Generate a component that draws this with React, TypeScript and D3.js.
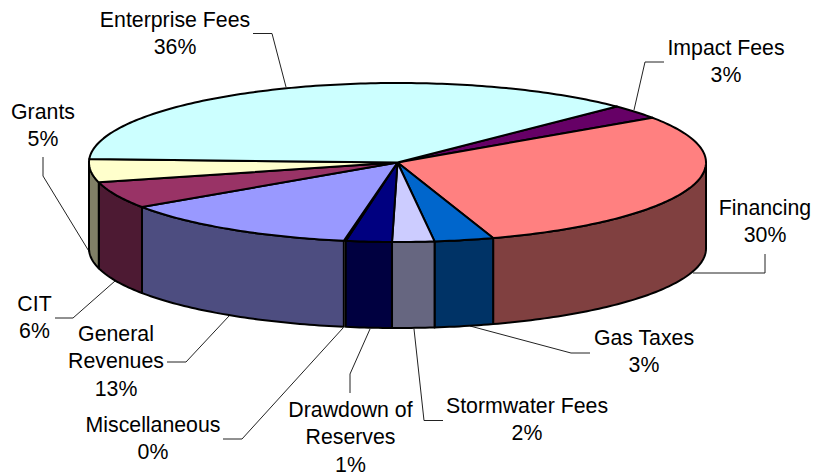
import React, { useEffect, useRef } from 'react';
import * as d3 from 'd3';

const categories = ['Impact Fees', 'Financing', 'Gas Taxes', 'Stormwater Fees', 'Drawdown of Reserves', 'Miscellaneous', 'General Revenues', 'CIT', 'Grants', 'Enterprise Fees'];
const shares = [2.9, 29.5, 3.1, 2.2, 2.4, 0.1, 12.75, 5.45, 4.7, 36.9];
const percentLabels = ['3%', '30%', '3%', '2%', '1%', '0%', '13%', '6%', '5%', '36%'];
const colors = ['#660066', '#FF8080', '#0066CC', '#CCCCFF', '#000080', '#FFFFFF', '#9999FF', '#993366', '#FFFFCC', '#CCFFFF'];

// label layout: text lines, centre x, first baseline, leader polyline
const labelLines = [['Impact Fees'], ['Financing'], ['Gas Taxes'], ['Stormwater Fees'], ['Drawdown of', 'Reserves'], ['Miscellaneous'], ['General', 'Revenues'], ['CIT'], ['Grants'], ['Enterprise Fees']];
const labelX = [726, 765, 644, 527, 350.5, 153, 116, 34.5, 43, 175];
const labelY = [55, 215, 345, 413, 417, 432, 341, 311, 119, 27];
const leaders: [number, number][][] = [
  [[634, 110], [645, 62], [664, 62]],
  [[693, 273], [765, 273], [765, 254]],
  [[470, 326], [571, 353], [590, 353]],
  [[414, 329], [424, 420.5], [443, 420.5]],
  [[370, 329], [350, 374], [350, 393]],
  [[343, 328], [242, 439], [223, 439]],
  [[229, 316], [186, 362], [167, 362]],
  [[115, 281], [73, 318], [55, 318]],
  [[90, 253], [43, 176], [43, 157]],
  [[286, 87], [272, 33.5], [253, 33.5]],
];

const width = 814;
const height = 476;
const cx = 397.5;
const cy = 162.5;
const rx = 308.5;
const ry = 79.5;
const depth = 86;
const startAngle = (45.3 * Math.PI) / 180;

const App = () => {
  const ref = useRef<SVGSVGElement>(null);

  useEffect(() => {
    const svg = d3.select(ref.current);
    svg.selectAll('*').remove();

    const rim = (a: number, dy = 0): [number, number] => [cx + rx * Math.sin(a), cy - ry * Math.cos(a) + dy];
    const sample = (a0: number, a1: number) => {
      const n = Math.max(2, Math.ceil((a1 - a0) * 60));
      return d3.range(n + 1).map(i => a0 + ((a1 - a0) * i) / n);
    };
    const line = d3.line();

    const pie = d3.pie<number>()
      .sort(null)
      .startAngle(startAngle)
      .endAngle(startAngle + 2 * Math.PI);
    const slices = pie(shares);

    // leaders sit behind the pie
    svg.append('g')
      .selectAll('path')
      .data(leaders)
      .enter().append('path')
      .attr('d', d => line(d))
      .attr('fill', 'none')
      .attr('stroke', '#222')
      .attr('stroke-width', 1);

    // side walls, only the front half of the rim shows
    const front0 = Math.PI / 2;
    const front1 = (3 * Math.PI) / 2;
    svg.append('g')
      .selectAll('path')
      .data(slices.filter(d => d.startAngle < front1 && d.endAngle > front0 && d.index !== 5))
      .enter().append('path')
      .attr('d', d => {
        const angles = sample(Math.max(d.startAngle, front0), Math.min(d.endAngle, front1));
        const pts = [
          ...angles.map(a => rim(a)),
          ...angles.slice().reverse().map(a => rim(a, depth)),
        ];
        return line(pts) + 'Z';
      })
      .attr('fill', d => {
        const c = d3.rgb(colors[d.index]);
        return d3.rgb(c.r / 2, c.g / 2, c.b / 2).formatHex();
      })
      .attr('stroke', '#000')
      .attr('stroke-width', 2)
      .attr('stroke-linejoin', 'round');

    // top face
    svg.append('g')
      .selectAll('path')
      .data(slices)
      .enter().append('path')
      .attr('d', d => line([[cx, cy], ...sample(d.startAngle, d.endAngle).map(a => rim(a))]) + 'Z')
      .attr('fill', d => colors[d.index])
      .attr('stroke', '#000')
      .attr('stroke-width', 2)
      .attr('stroke-linejoin', 'round');

    // data labels
    const label = svg.append('g')
      .attr('font-family', '"Liberation Sans", Arial, sans-serif')
      .attr('font-size', 21.3)
      .attr('text-anchor', 'middle')
      .attr('fill', '#000')
      .selectAll('text')
      .data(categories)
      .enter().append('text')
      .attr('y', (d, i) => labelY[i]);

    label.selectAll('tspan')
      .data((d, i) => [...labelLines[i], percentLabels[i]].map(text => ({ text, x: labelX[i] })))
      .enter().append('tspan')
      .attr('x', d => d.x)
      .attr('dy', (d, i) => (i === 0 ? 0 : 27.3))
      .text(d => d.text);
  }, []);

  return (
    <svg
      ref={ref}
      width={width}
      height={height}
      style={{ position: 'absolute', left: 0, top: 0, background: '#fff' }}
    />
  );
};

export default App;
